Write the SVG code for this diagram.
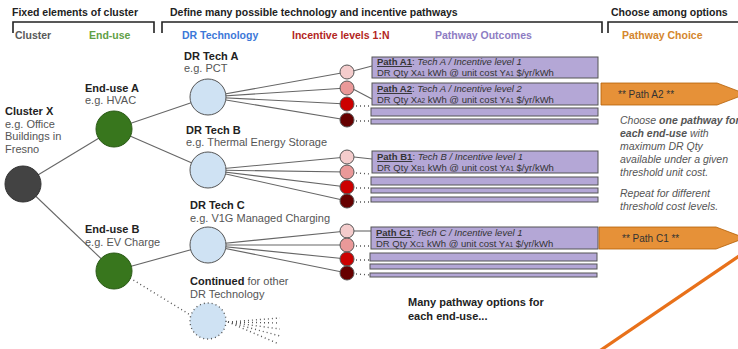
<svg xmlns="http://www.w3.org/2000/svg" width="738" height="349" viewBox="0 0 738 349">
<defs>
<style>
text{font-family:"Liberation Sans",Arial,sans-serif;}
.hdr{font-size:10.5px;font-weight:bold;fill:#222;}
.sub{font-size:10.5px;font-weight:bold;}
.brk{fill:none;stroke:#222;stroke-width:1.6;}
.ttl{font-size:11px;font-weight:bold;fill:#222;}
.eg{font-size:11px;fill:#555;}
.edge{stroke:#666;stroke-width:1.1;fill:none;}
.dot{stroke:#555;stroke-width:1.4;stroke-dasharray:1 3;fill:none;}
.tech{fill:#cfe2f3;stroke:#555;stroke-width:1;}
.inc{stroke:#555;stroke-width:1;}
.i1{fill:#f4cccc;}.i2{fill:#ea9999;}.i3{fill:#cc0000;}.i4{fill:#660000;}
.out{fill:#b4a7d6;stroke:#555;stroke-width:1;}
.pt{font-size:9.5px;fill:#333;}
.sb{font-size:6.5px;}
.ch{fill:#e69138;stroke:#b45f06;stroke-width:0.8;}
.cht{font-size:10px;fill:#333;}
.note{font-size:10.5px;font-style:italic;fill:#555;}
</style>
</defs>
<rect width="738" height="349" fill="#fff"/>

<g id="headers">
<text class="hdr" x="12" y="16">Fixed elements of cluster</text>
<path class="brk" d="M13,33 V22 H154 V33"/>
<text class="hdr" x="170" y="16">Define many possible technology and incentive pathways</text>
<path class="brk" d="M162,33 V22 H602 V33"/>
<text class="hdr" x="611" y="16">Choose among options</text>
<path class="brk" d="M608,33 V22 H740"/>
<text class="sub" x="15" y="39" fill="#595959">Cluster</text>
<text class="sub" x="89" y="39" fill="#5fa046">End-use</text>
<text class="sub" x="182" y="39" fill="#3c78d8">DR Technology</text>
<text class="sub" x="292" y="39" fill="#b3261e">Incentive levels 1:N</text>
<text class="sub" x="435" y="39" fill="#8e7cc3">Pathway Outcomes</text>
<text class="sub" x="622" y="39" fill="#d4862c">Pathway Choice</text>
</g>

<g id="connectors">
<line class="edge" x1="23" y1="184" x2="114" y2="129"/>
<line class="edge" x1="23" y1="184" x2="114" y2="271"/>
<line class="edge" x1="114" y1="129" x2="208" y2="97"/>
<line class="edge" x1="114" y1="129" x2="208" y2="170"/>
<line class="edge" x1="114" y1="271" x2="208" y2="245"/>
<line class="dot" x1="130" y1="278" x2="192" y2="316"/>
<line class="edge" x1="208" y1="97" x2="347" y2="72"/>
<line class="edge" x1="208" y1="97" x2="347" y2="88"/>
<line class="edge" x1="208" y1="97" x2="347" y2="104"/>
<line class="edge" x1="208" y1="97" x2="347" y2="120"/>
<line class="edge" x1="208" y1="170" x2="347" y2="157"/>
<line class="edge" x1="208" y1="170" x2="347" y2="172"/>
<line class="edge" x1="208" y1="170" x2="347" y2="187"/>
<line class="edge" x1="208" y1="170" x2="347" y2="201"/>
<line class="edge" x1="208" y1="245" x2="347" y2="231"/>
<line class="edge" x1="208" y1="245" x2="347" y2="245"/>
<line class="edge" x1="208" y1="245" x2="347" y2="259"/>
<line class="edge" x1="208" y1="245" x2="347" y2="273"/>
<line class="dot" x1="228" y1="322" x2="280" y2="318"/>
<line class="dot" x1="228" y1="322" x2="280" y2="323"/>
<line class="dot" x1="228" y1="322" x2="280" y2="329"/>
<line class="dot" x1="228" y1="322" x2="280" y2="336"/>
<line class="dot" x1="228" y1="322" x2="279" y2="344"/>
<line class="edge" x1="353" y1="71" x2="372" y2="66"/>
<line class="edge" x1="353" y1="89" x2="372" y2="99"/>
<line class="dot" x1="356" y1="106" x2="370" y2="106"/>
<line class="dot" x1="356" y1="121" x2="370" y2="121"/>
<line class="edge" x1="354" y1="157" x2="372" y2="159"/>
<line class="dot" x1="356" y1="173" x2="370" y2="174"/>
<line class="dot" x1="356" y1="188" x2="370" y2="188"/>
<line class="dot" x1="356" y1="202" x2="370" y2="202"/>
<line class="edge" x1="354" y1="231" x2="372" y2="231"/>
<line class="dot" x1="356" y1="246" x2="370" y2="246"/>
<line class="dot" x1="356" y1="260" x2="370" y2="260"/>
<line class="dot" x1="356" y1="274" x2="370" y2="275"/>
<line x1="598" y1="352" x2="742" y2="254" stroke="#e8711a" stroke-width="3.2"/>
</g>

<g id="cluster-x">
<circle cx="23" cy="184" r="18" fill="#434343" stroke="#333"/>
<text class="ttl" x="5" y="115">Cluster X</text>
<text class="eg" x="5" y="127.5">e.g. Office</text>
<text class="eg" x="5" y="140">Buildings in</text>
<text class="eg" x="5" y="152.5">Fresno</text>
</g>

<g id="end-use-a">
<circle cx="114" cy="129" r="18" fill="#38761d" stroke="#2a5a16"/>
<text class="ttl" x="85" y="92">End-use A</text>
<text class="eg" x="85" y="104">e.g. HVAC</text>
</g>

<g id="end-use-b">
<circle cx="114" cy="271" r="18" fill="#38761d" stroke="#2a5a16"/>
<text class="ttl" x="85" y="233">End-use B</text>
<text class="eg" x="85" y="246">e.g. EV Charge</text>
</g>

<g id="dr-tech-a">
<circle class="tech" cx="208" cy="97" r="18"/>
<text class="ttl" x="184" y="60">DR Tech A</text>
<text class="eg" x="184" y="72">e.g. PCT</text>
</g>

<g id="dr-tech-b">
<circle class="tech" cx="208" cy="170" r="18"/>
<text class="ttl" x="186" y="134">DR Tech B</text>
<text class="eg" x="186" y="146">e.g. Thermal Energy Storage</text>
</g>

<g id="dr-tech-c">
<circle class="tech" cx="208" cy="245" r="18"/>
<text class="ttl" x="190" y="209">DR Tech C</text>
<text class="eg" x="190" y="222">e.g. V1G Managed Charging</text>
</g>

<g id="continued">
<circle cx="208" cy="321" r="18" fill="#cfe2f3" stroke="#555" stroke-width="1.4" stroke-dasharray="1 3"/>
<text class="eg" x="190" y="285"><tspan font-weight="bold" fill="#222">Continued</tspan> for other</text>
<text class="eg" x="190" y="298">DR Technology</text>
</g>

<g id="incentives-a">
<circle class="inc i1" cx="347" cy="72" r="7"/>
<circle class="inc i2" cx="347" cy="88" r="7"/>
<circle class="inc i3" cx="347" cy="104" r="7"/>
<circle class="inc i4" cx="347" cy="120" r="7"/>
</g>
<g id="incentives-b">
<circle class="inc i1" cx="347" cy="157" r="7"/>
<circle class="inc i2" cx="347" cy="172" r="7"/>
<circle class="inc i3" cx="347" cy="187" r="7"/>
<circle class="inc i4" cx="347" cy="201" r="7"/>
</g>
<g id="incentives-c">
<circle class="inc i1" cx="347" cy="231" r="7"/>
<circle class="inc i2" cx="347" cy="245" r="7"/>
<circle class="inc i3" cx="347" cy="259" r="7"/>
<circle class="inc i4" cx="347" cy="273" r="7"/>
</g>

<g id="path-a1">
<rect class="out" x="372" y="57" width="226" height="21"/>
<text class="pt" x="377" y="65"><tspan font-weight="bold" text-decoration="underline">Path A1</tspan>: <tspan font-style="italic">Tech A / Incentive level 1</tspan></text>
<text class="pt" x="377" y="76">DR Qty X<tspan class="sb">A1</tspan> kWh @ unit cost Y<tspan class="sb">A1</tspan> $/yr/kWh</text>
</g>
<g id="path-a2">
<rect class="out" x="372" y="83" width="226" height="22"/>
<text class="pt" x="377" y="92"><tspan font-weight="bold" text-decoration="underline">Path A2</tspan>: <tspan font-style="italic">Tech A / Incentive level 2</tspan></text>
<text class="pt" x="377" y="102.5">DR Qty X<tspan class="sb">A2</tspan> kWh @ unit cost Y<tspan class="sb">A1</tspan> $/yr/kWh</text>
</g>
<g id="path-a3"><rect class="out" x="371" y="108" width="227" height="8"/></g>
<g id="path-a4"><rect class="out" x="371" y="119" width="227" height="5"/></g>

<g id="path-b1">
<rect class="out" x="372" y="151" width="226" height="22"/>
<text class="pt" x="377" y="160"><tspan font-weight="bold" text-decoration="underline">Path B1</tspan>: <tspan font-style="italic">Tech B / Incentive level 1</tspan></text>
<text class="pt" x="377" y="171">DR Qty X<tspan class="sb">B1</tspan> kWh @ unit cost Y<tspan class="sb">A1</tspan> $/yr/kWh</text>
</g>
<g id="path-b2"><rect class="out" x="371" y="177" width="227" height="8"/></g>
<g id="path-b3"><rect class="out" x="371" y="188" width="227" height="5"/></g>
<g id="path-b4"><rect class="out" x="371" y="197" width="227" height="5"/></g>

<g id="path-c1">
<rect class="out" x="371" y="227" width="227" height="22"/>
<text class="pt" x="376" y="236"><tspan font-weight="bold" text-decoration="underline">Path C1</tspan>: <tspan font-style="italic">Tech C / Incentive level 1</tspan></text>
<text class="pt" x="376" y="247">DR Qty X<tspan class="sb">C1</tspan> kWh @ unit cost Y<tspan class="sb">A1</tspan> $/yr/kWh</text>
</g>
<g id="path-c2"><rect class="out" x="370" y="253" width="227" height="8"/></g>
<g id="path-c3"><rect class="out" x="370" y="264" width="227" height="5"/></g>
<g id="path-c4"><rect class="out" x="370" y="273" width="227" height="4"/></g>

<g id="choice-a2">
<polygon class="ch" points="601,83 717,83 746,94 717,105 601,105"/>
<text class="cht" x="618" y="97.5">** Path A2 **</text>
</g>
<g id="choice-c1">
<polygon class="ch" points="599,227 716,227 745,238 716,249 599,249"/>
<text class="cht" x="622" y="242">** Path C1 **</text>
</g>

<g id="choice-note">
<text class="note" x="620" y="124">Choose <tspan font-weight="bold">one pathway for</tspan></text>
<text class="note" x="620" y="137"><tspan font-weight="bold">each end-use</tspan> with</text>
<text class="note" x="620" y="150">maximum DR Qty</text>
<text class="note" x="620" y="163">available under a given</text>
<text class="note" x="620" y="176">threshold unit cost.</text>
<text class="note" x="620" y="197">Repeat for different</text>
<text class="note" x="620" y="210">threshold cost levels.</text>
</g>

<g id="many-note">
<text class="ttl" x="408" y="306" font-size="10.5">Many pathway options for</text>
<text class="ttl" x="408" y="320" font-size="10.5">each end-use...</text>
</g>
</svg>
